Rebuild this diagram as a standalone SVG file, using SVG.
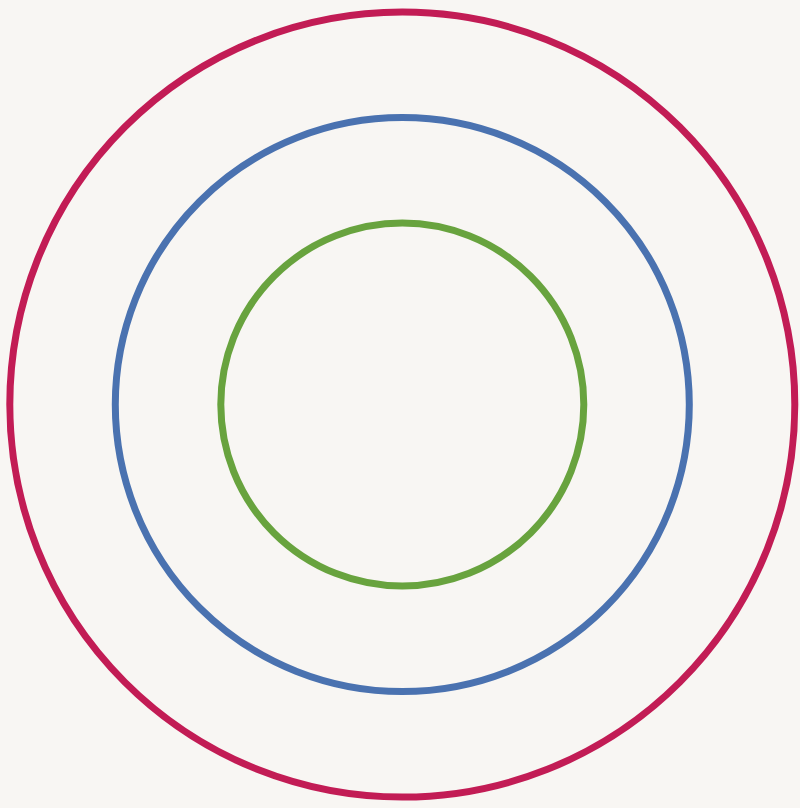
<svg xmlns="http://www.w3.org/2000/svg" width="800" height="808" viewBox="0 0 800 808">
<style>
.ring{fill:none;stroke-width:7}
</style>
<rect width="800" height="808" fill="#f8f6f3"/>
<g id="outer"><circle class="ring" cx="402.3" cy="404.6" r="392.5" stroke="#c21c55"/></g>
<g id="middle"><circle class="ring" cx="402.3" cy="404.6" r="287" stroke="#4a72b0"/></g>
<g id="inner"><circle class="ring" cx="402.3" cy="404.6" r="181.5" stroke="#68a33e"/></g>
<g id="connectors"></g>
</svg>
